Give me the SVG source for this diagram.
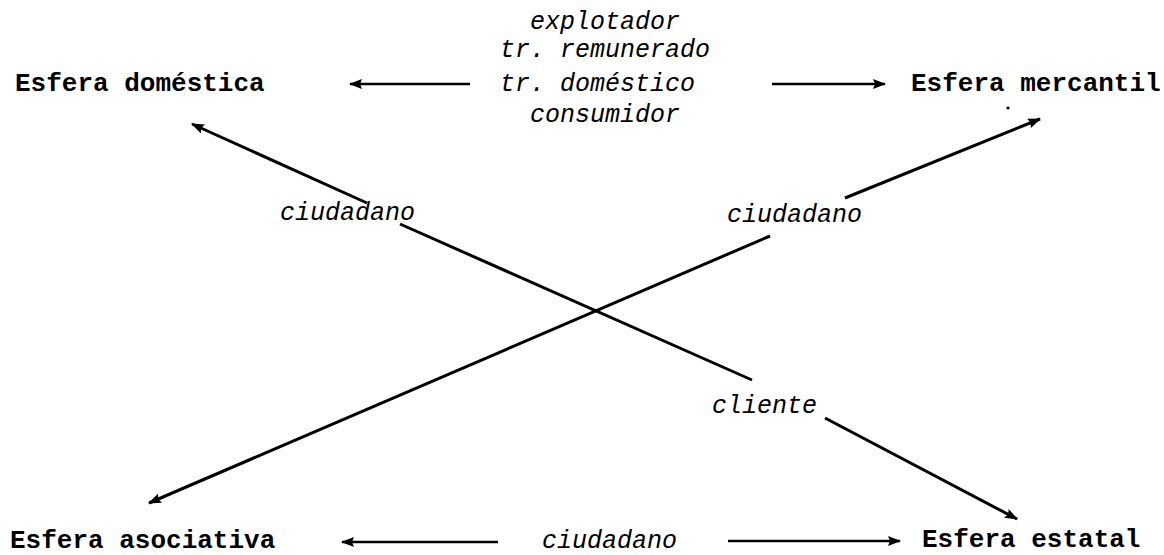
<svg xmlns="http://www.w3.org/2000/svg" width="1164" height="555" viewBox="0 0 1164 555">
<defs>
<marker id="ah" viewBox="0 0 13 10" refX="12" refY="5" markerWidth="13" markerHeight="10" markerUnits="userSpaceOnUse" orient="auto">
<path d="M0,0 L13,5 L0,10 L2,5 Z" fill="#000"/>
</marker>
<style>
.sph{font-family:"Liberation Mono","Courier New",monospace;font-size:26px;font-weight:bold;fill:#000}
.lbl{font-family:"Liberation Mono","Courier New",monospace;font-size:25px;font-style:italic;fill:#000}
.ln{stroke:#000;stroke-width:3;fill:none}
.hl{stroke:#000;stroke-width:2.5;fill:none}
</style>
</defs>
<rect width="1164" height="555" fill="#fff"/>
<g id="esfera-domestica"><text class="sph" x="15" y="91">Esfera doméstica</text></g>
<g id="esfera-mercantil"><text class="sph" x="911" y="91">Esfera mercantil</text></g>
<g id="esfera-asociativa"><text class="sph" x="10" y="548">Esfera asociativa</text></g>
<g id="esfera-estatal"><text class="sph" x="922" y="547">Esfera estatal</text></g>
<g id="roles-centro">
<text class="lbl" x="530" y="29">explotador</text>
<text class="lbl" x="500" y="57">tr. remunerado</text>
<text class="lbl" x="500" y="91">tr. doméstico</text>
<text class="lbl" x="530" y="122">consumidor</text>
</g>
<g id="labels">
<text class="lbl" x="280" y="220">ciudadano</text>
<text class="lbl" x="727" y="222">ciudadano</text>
<text class="lbl" x="712" y="413">cliente</text>
<text class="lbl" x="542" y="548">ciudadano</text>
</g>
<g id="connectors">
<line class="hl" x1="470" y1="84" x2="350" y2="84" marker-end="url(#ah)"/>
<line class="hl" x1="772" y1="84" x2="885" y2="84" marker-end="url(#ah)"/>
<line class="hl" x1="498" y1="542" x2="342" y2="542" marker-end="url(#ah)"/>
<line class="hl" x1="728" y1="541" x2="900" y2="541" marker-end="url(#ah)"/>
<line class="ln" x1="367" y1="203" x2="192" y2="124" marker-end="url(#ah)"/>
<line class="ln" x1="400" y1="224" x2="752" y2="380"/>
<line class="ln" x1="825" y1="418" x2="1017" y2="519" marker-end="url(#ah)"/>
<line class="ln" x1="845" y1="198" x2="1040" y2="119" marker-end="url(#ah)"/>
<line class="ln" x1="770" y1="236" x2="149" y2="503" marker-end="url(#ah)"/>
<circle cx="1008" cy="108" r="1.6" fill="#000"/>
</g>
</svg>
